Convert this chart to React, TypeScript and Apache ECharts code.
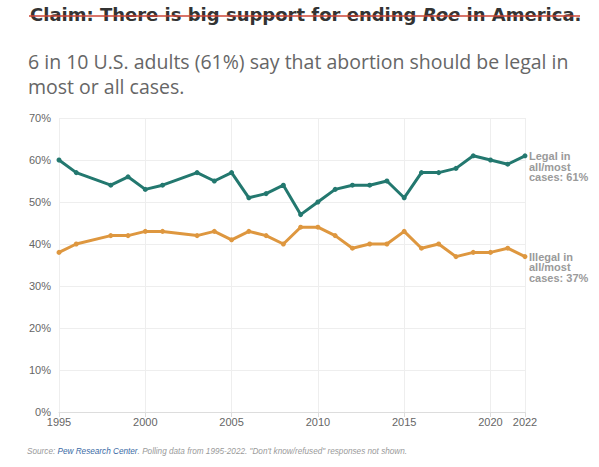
import React, { useEffect, useRef } from "react";
import * as echarts from "echarts";

const legalYears = [1995, 1996, 1998, 1999, 2000, 2001, 2003, 2004, 2005, 2006, 2007, 2008, 2009, 2010, 2011, 2012, 2013, 2014, 2015, 2016, 2017, 2018, 2019, 2020, 2021, 2022];
const legalValues = [60, 57, 54, 56, 53, 54, 57, 55, 57, 51, 52, 54, 47, 50, 53, 54, 54, 55, 51, 57, 57, 58, 61, 60, 59, 61];
const illegalValues = [38, 40, 42, 42, 43, 43, 42, 43, 41, 43, 42, 40, 44, 44, 42, 39, 40, 40, 43, 39, 40, 37, 38, 38, 39, 37];

const titleText = "Claim: There is big support for ending ";
const titleItalic = "Roe";
const titleEnd = " in America.";
const subtitleText = "6 in 10 U.S. adults (61%) say that abortion should be legal in\nmost or all cases.";
const legalLabel = "Legal in\nall/most\ncases: 61%";
const illegalLabel = "Illegal in\nall/most\ncases: 37%";

const TEAL = "#23786f";
const ORANGE = "#de973f";
const SANS = "'Liberation Sans', Arial, sans-serif";
const HEAD = "'Open Sans', 'Noto Sans', sans-serif";
const TITLE_FONT = "'DejaVu Sans', sans-serif";

export default function App() {
  const ref = useRef<HTMLDivElement>(null);
  useEffect(() => {
    document.body.style.margin = "0";
    if (!ref.current) return;
    const chart = echarts.init(ref.current, null, { renderer: "svg" });
    const legalData = legalYears.map((y, i) => [y, legalValues[i]]);
    const illegalData = legalYears.map((y, i) => [y, illegalValues[i]]);
    const endLabel = (text: string) => ({
      show: true,
      formatter: () => text,
      color: "#9a9a9a",
      fontWeight: "bold",
      fontSize: 11,
      lineHeight: 10.5,
      fontFamily: SANS,
      distance: 4,
      verticalAlign: "top",
      offset: [0, -5],
    });
    chart.setOption({
      animation: false,
      backgroundColor: "#ffffff",
      grid: { left: 59, right: 74, top: 118, bottom: 55 },
      xAxis: {
        type: "value",
        min: 1995,
        max: 2022,
        interval: 5,
        axisLine: { show: true, lineStyle: { color: "#dddddd" } },
        axisTick: { show: true, length: 5, lineStyle: { color: "#dddddd" } },
        axisLabel: { color: "#666666", fontSize: 11, fontFamily: SANS, margin: 4, formatter: (v: number) => String(v) },
        splitLine: { show: true, lineStyle: { color: "#eeeeee" } },
      },
      yAxis: {
        type: "value",
        min: 0,
        max: 70,
        interval: 10,
        axisLine: { show: false },
        axisTick: { show: false },
        axisLabel: { color: "#666666", fontSize: 11, fontFamily: SANS, margin: 8, formatter: "{value}%" },
        splitLine: { show: true, lineStyle: { color: "#eeeeee" } },
      },
      series: [
        {
          type: "line",
          data: legalData,
          symbol: "circle",
          symbolSize: 5,
          lineStyle: { color: TEAL, width: 3 },
          itemStyle: { color: TEAL },
          endLabel: endLabel(legalLabel),
        },
        {
          type: "line",
          data: illegalData,
          symbol: "circle",
          symbolSize: 5,
          lineStyle: { color: ORANGE, width: 3 },
          itemStyle: { color: ORANGE },
          endLabel: endLabel(illegalLabel),
        },
      ],
      graphic: [
        {
          type: "text",
          left: 30,
          top: 5,
          style: {
            text: `{a|${titleText}}{b|${titleItalic}}{a|${titleEnd}}`,
            rich: {
              a: { fontSize: 18, fontWeight: "bold", fill: "#333333", fontFamily: TITLE_FONT },
              b: { fontSize: 18, fontWeight: "bold", fontStyle: "italic", fill: "#333333", fontFamily: TITLE_FONT },
            },
          },
        },
        {
          type: "line",
          shape: { x1: 29, y1: 16, x2: 580, y2: 16 },
          style: { stroke: "#cc4637", lineWidth: 1.5 },
        },
        {
          type: "text",
          left: 28,
          top: 49,
          style: {
            text: subtitleText,
            fontSize: 19.5,
            lineHeight: 25,
            fill: "#666666",
            fontFamily: HEAD,
          },
        },
        {
          type: "text",
          left: 27,
          top: 447,
          style: {
            text: `{g|Source: }{l|Pew Research Center}{g|. Polling data from 1995-2022. "Don't know/refused" responses not shown.}`,
            rich: {
              g: { fontSize: 8.2, fontStyle: "italic", fill: "#9a9a9a", fontFamily: SANS },
              l: { fontSize: 8.2, fontStyle: "italic", fill: "#3a6aa5", fontFamily: SANS },
            },
          },
        },
      ],
    });
    return () => chart.dispose();
  }, []);
  return <div ref={ref} style={{ width: 599, height: 467 }} />;
}
